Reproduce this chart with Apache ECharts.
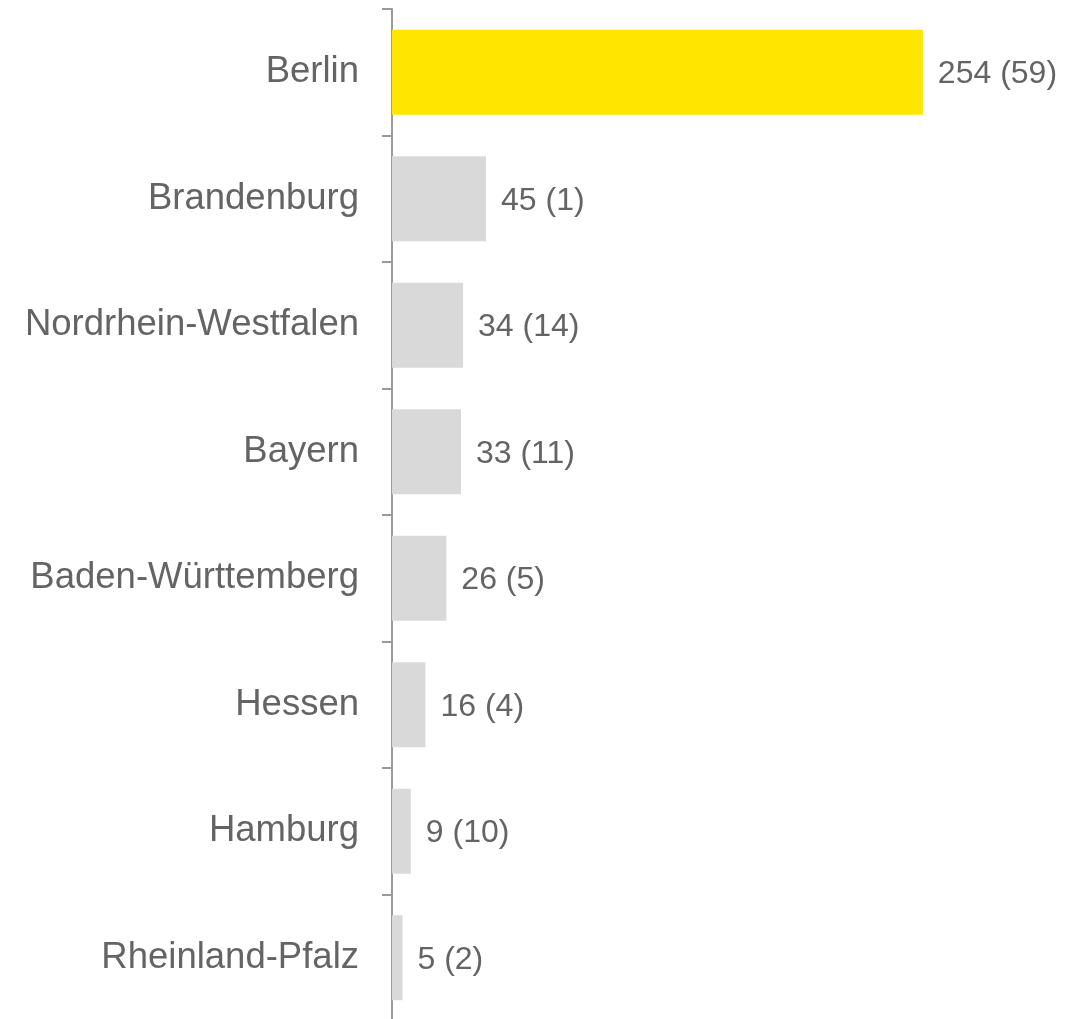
<!DOCTYPE html>
<html>
<head>
<meta charset="utf-8">
<script src="https://cdn.jsdelivr.net/npm/echarts@6/dist/echarts.min.js"></script>
<style>
  html, body { margin: 0; padding: 0; background: #fff; overflow: hidden; }
  #chart { width: 1077px; height: 1021px; }
</style>
</head>
<body>
<div id="chart"></div>
<script>
const states = ['Berlin', 'Brandenburg', 'Nordrhein-Westfalen', 'Bayern', 'Baden-Württemberg', 'Hessen', 'Hamburg', 'Rheinland-Pfalz'];
const counts = [254, 45, 34, 33, 26, 16, 9, 5];
const inBrackets = [59, 1, 14, 11, 5, 4, 10, 2];

const textColor = '#646464';
const axisColor = '#9a9a9a';
const chart = echarts.init(document.getElementById('chart'));

// the axis runs past the bottom edge of the picture, so the last tick is cut off
chart.setOption({
  animation: false,
  grid: {
    left: 392,
    width: 627,
    top: 9,
    bottom: 0,
  },
  xAxis: {
    type: 'value',
    min: 0,
    max: 300,
    show: false,
  },
  yAxis: {
    type: 'category',
    inverse: true,
    data: states,
    axisLine: {
      show: true,
      lineStyle: { color: axisColor, width: 2 }
    },
    axisTick: {
      show: true,
      length: 10,
      lineStyle: { color: axisColor, width: 2 }
    },
    axisLabel: {
      margin: 33,
      fontFamily: 'Liberation Sans, Arial, sans-serif',
      fontSize: 36.5,
      color: textColor,
    },
  },
  series: [{
    type: 'bar',
    data: counts.map((v, i) => ({
      value: v,
      itemStyle: { color: i === 0 ? '#FFE600' : '#D9D9D9' }
    })),
    barWidth: 85,
    label: {
      show: true,
      position: 'right',
      distance: 15,
      offset: [0, 2],
      fontFamily: 'Liberation Sans, Arial, sans-serif',
      fontSize: 32,
      color: textColor,
      formatter: p => `${p.value} (${inBrackets[p.dataIndex]})`,
    },
  }],
});
</script>
</body>
</html>
